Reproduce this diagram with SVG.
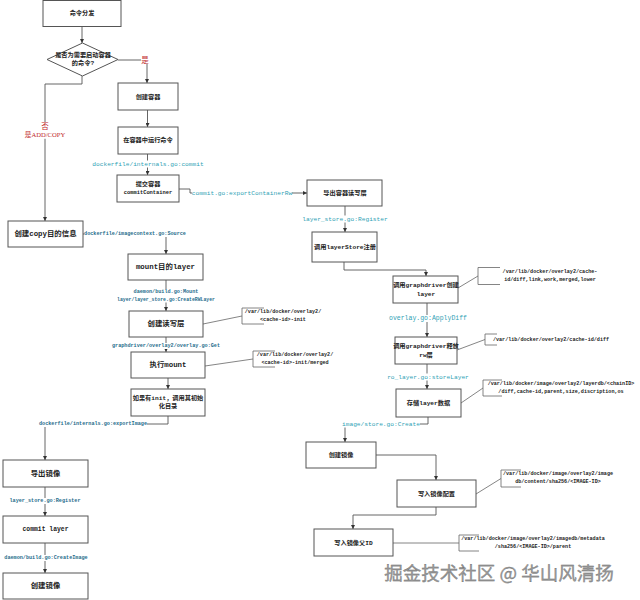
<svg xmlns="http://www.w3.org/2000/svg" width="640" height="600" viewBox="0 0 640 600">
<defs>
<marker id="arr" viewBox="0 0 6 6" refX="6" refY="3" markerWidth="4" markerHeight="4" orient="auto" markerUnits="userSpaceOnUse">
<path d="M0,0 L6,3 L0,6 z" fill="#333"/>
</marker>
<style>
.box{fill:#fff;stroke:#555;stroke-width:1}
.arrow{fill:none;stroke:#555;stroke-width:0.9;marker-end:url(#arr)}
.note{fill:none;stroke:#666;stroke-width:0.8}
.bg{fill:#fff}
.t{font-family:"Liberation Mono","Noto Sans CJK SC",monospace;font-weight:bold;fill:#222;text-anchor:middle;dominant-baseline:central}
.s{font-size:6.2px}
.b{font-size:7.4px}
.lbl{font-family:"Liberation Mono",monospace;text-anchor:middle;dominant-baseline:central}
.lt{fill:#2f9fb5;font-size:6.2px}
.dk{fill:#1f6d8c;font-size:5.15px;font-weight:bold}
.nt{font-family:"Liberation Mono",monospace;font-size:5.1px;font-weight:bold;fill:#222;text-anchor:middle;dominant-baseline:central}
.red{font-family:"Liberation Serif","Noto Sans CJK SC",serif;font-size:6.6px;fill:#c0282a;text-anchor:middle;dominant-baseline:central}
</style>
</defs>
<rect width="640" height="600" fill="#fff"/>

<g id="connectors">
<path class="arrow" d="M82,26 V43"/>
<path class="arrow" d="M118,60 H147 V83"/>
<path class="arrow" d="M82,76 V84 H45 V221"/>
<path class="arrow" d="M147.5,110 V127"/>
<path class="arrow" d="M147.5,154 V175"/>
<path class="arrow" d="M179,189 H190 V193 H307"/>
<path class="arrow" d="M345,206 V232"/>
<path class="arrow" d="M344,262 V270 H426 V276"/>
<path class="arrow" d="M427,303 V337"/>
<path class="arrow" d="M427,364 V389"/>
<path class="arrow" d="M428,417 V424 H345 V442"/>
<path class="arrow" d="M376,455 H436 V480"/>
<path class="arrow" d="M436,507 V515 H353 V529"/>
<path class="arrow" d="M83,234 H166 V254"/>
<path class="arrow" d="M166,280 V311"/>
<path class="arrow" d="M166,337 V352"/>
<path class="arrow" d="M168,378 V389"/>
<path class="arrow" d="M168,416 V424 H45 V460"/>
<path class="arrow" d="M45,487 V516"/>
<path class="arrow" d="M45,543 V573"/>
<!-- note connectors -->
<path class="note" d="M458,288 L478,276"/>
<path class="note" d="M457,350 L485,339.5"/>
<path class="note" d="M461,403 L483,388"/>
<path class="note" d="M203,324 L242,316"/>
<path class="note" d="M205,366 L253,359"/>
<path class="note" d="M476,494 L501,478.5"/>
<path class="note" d="M393,543 L459,543"/>
<!-- label backgrounds -->
<rect class="bg" x="141" y="56" width="8" height="8"/>
<rect class="bg" x="41" y="122" width="8" height="16.5"/>
<rect class="bg" x="28" y="130.5" width="34" height="8"/>
<rect class="bg" x="92" y="160.5" width="112" height="7"/>
<rect class="bg" x="192" y="189.5" width="100" height="7"/>
<rect class="bg" x="302" y="215.5" width="86" height="7"/>
<rect class="bg" x="389" y="315" width="78" height="7"/>
<rect class="bg" x="387" y="373.5" width="82" height="7"/>
<rect class="bg" x="342" y="420.5" width="78" height="7"/>
<rect class="bg" x="84" y="231" width="102" height="6"/>
<rect class="bg" x="117" y="289" width="98" height="13.5"/>
<rect class="bg" x="112" y="343" width="108" height="6"/>
<rect class="bg" x="39" y="421" width="108" height="6"/>
<rect class="bg" x="9.5" y="498" width="71" height="6"/>
<rect class="bg" x="4.3" y="555" width="83.4" height="6"/>
<!-- connector labels -->
<text class="red" x="145" y="60" style="font-size:7.5px">是</text>
<text class="red" x="45" y="126" style="font-size:7.5px">否</text>
<text class="red" x="45" y="134.5">是ADD/COPY</text>
<text class="lbl lt" x="148" y="164">dockerfile/internals.go:commit</text>
<text class="lbl lt" x="242" y="193">commit.go:exportContainerRw</text>
<text class="lbl lt" x="345" y="219">layer_store.go:Register</text>
<text class="lbl lt" x="428" y="318.5" style="font-size:6.5px">overlay.go:ApplyDiff</text>
<text class="lbl lt" x="428" y="377">ro_layer.go:storeLayer</text>
<text class="lbl lt" x="381" y="424">image/store.go:Create</text>
<text class="lbl dk" x="135" y="234">dockerfile/imagecontext.go:Source</text>
<text class="lbl dk" x="166" y="292">daemon/build.go:Mount</text>
<text class="lbl dk" x="166" y="299.5" style="font-size:4.8px">layer/layer_store.go:CreateRWLayer</text>
<text class="lbl dk" x="166" y="346">graphdriver/overlay2/overlay.go:Get</text>
<text class="lbl dk" x="93" y="424">dockerfile/internals.go:exportImage</text>
<text class="lbl dk" x="45" y="501">layer_store.go:Register</text>
<text class="lbl dk" x="46" y="558">daemon/build.go:CreateImage</text>
</g>

<g id="n-dispatch"><rect class="box" x="43" y="0.5" width="78" height="26"/><text class="t s" x="82" y="13.5">命令分发</text></g>
<g id="n-decision"><path class="box" d="M82.5,43 L118,59.5 L82.5,76 L47,59.5 z"/><text class="t s" x="83" y="55">是否为需要启动容器</text><text class="t s" x="83" y="63.5">的命令?</text></g>
<g id="n-create-container"><rect class="box" x="118" y="83" width="60" height="27"/><text class="t s" x="148" y="97">创建容器</text></g>
<g id="n-run-cmd"><rect class="box" x="118" y="127" width="60" height="27"/><text class="t s" x="148" y="140.5">在容器中运行命令</text></g>
<g id="n-commit-container"><rect class="box" x="117" y="175" width="62" height="27"/><text class="t s" x="148" y="184">提交容器</text><text class="t" style="font-size:5.4px" x="148" y="193">commitContainer</text></g>
<g id="n-export-rw"><rect class="box" x="307" y="180" width="75" height="26"/><text class="t s" x="345" y="193">导出容器读写层</text></g>
<g id="n-layerstore-register"><rect class="box" x="312" y="232" width="65" height="30"/><text class="t s" x="345" y="247">调用layerStore注册</text></g>
<g id="n-graphdriver-create"><rect class="box" x="393" y="276" width="65" height="27"/><text class="t s" x="426" y="285">调用graphdriver创建</text><text class="t s" x="426" y="294">layer</text></g>
<g id="n-graphdriver-release"><rect class="box" x="395" y="337" width="62" height="27"/><text class="t s" x="426" y="346.5">调用graphdriver释放</text><text class="t s" x="426" y="355.5">rw层</text></g>
<g id="n-store-layer"><rect class="box" x="396" y="389" width="65" height="28"/><text class="t s" x="428.5" y="403.5">存储layer数据</text></g>
<g id="n-create-image-r"><rect class="box" x="306" y="442" width="70" height="26"/><text class="t s" x="341" y="455">创建镜像</text></g>
<g id="n-write-config"><rect class="box" x="397" y="480" width="79" height="27"/><text class="t s" x="436.5" y="494">写入镜像配置</text></g>
<g id="n-write-parent"><rect class="box" x="314" y="529" width="79" height="27"/><text class="t s" x="353.5" y="543">写入镜像父ID</text></g>
<g id="n-create-copy"><rect class="box" x="8" y="221" width="75" height="26"/><text class="t b" x="45.5" y="234">创建copy目的信息</text></g>
<g id="n-mount-layer"><rect class="box" x="128" y="254" width="75" height="26"/><text class="t b" x="165.5" y="267">mount目的layer</text></g>
<g id="n-create-rw"><rect class="box" x="129" y="311" width="74" height="26"/><text class="t b" x="166" y="324">创建读写层</text></g>
<g id="n-exec-mount"><rect class="box" x="131" y="352" width="74" height="26"/><text class="t b" x="168" y="365">执行mount</text></g>
<g id="n-init"><rect class="box" x="131" y="389" width="74" height="27"/><text class="t s" x="168" y="398">如果有init，调用其初始</text><text class="t s" x="168" y="406.5">化目录</text></g>
<g id="n-export-image"><rect class="box" x="3" y="460" width="85" height="27"/><text class="t b" x="45.5" y="473.5">导出镜像</text></g>
<g id="n-commit-layer"><rect class="box" x="3" y="516" width="85" height="27"/><text class="t" style="font-size:6.4px" x="45.5" y="529.5">commit layer</text></g>
<g id="n-create-image-l"><rect class="box" x="3" y="573" width="85" height="26"/><text class="t b" x="45.5" y="586">创建镜像</text></g>

<g id="note-create-rw"><path class="note" d="M264,308 H242 V324 H264"/><text class="nt" x="283" y="312">/var/lib/docker/overlay2/</text><text class="nt" x="283" y="319.5">&lt;cache-id&gt;-init</text></g>
<g id="note-exec-mount"><path class="note" d="M275,351 H253 V367 H275"/><text class="nt" x="295" y="355">/var/lib/docker/overlay2/</text><text class="nt" x="295" y="362.5">&lt;cache-id&gt;-init/merged</text></g>
<g id="note-graphdriver-create"><path class="note" d="M500,267.5 H478 V284.5 H500"/><text class="nt" x="550" y="272">/var/lib/docker/overlay2/cache-</text><text class="nt" x="550" y="280">id/diff,link,work,merged,lower</text></g>
<g id="note-graphdriver-release"><path class="note" d="M497,334 H485 V345 H497"/><text class="nt" x="551" y="339.5">/var/lib/docker/overlay2/cache-id/diff</text></g>
<g id="note-store-layer"><path class="note" d="M502,380 H483 V396 H502"/><text class="nt" x="561" y="384">/var/lib/docker/image/overlay2/layerdb/&lt;chainID&gt;</text><text class="nt" x="561" y="392">/diff,cache-id,parent,size,discription,os</text></g>
<g id="note-write-config"><path class="note" d="M521,470 H501 V487 H521"/><text class="nt" x="558" y="474">/var/lib/docker/image/overlay2/image</text><text class="nt" x="558" y="482">db/content/sha256/&lt;IMAGE-ID&gt;</text></g>
<g id="note-write-parent"><path class="note" d="M479,535 H459 V551 H479"/><text class="nt" x="533" y="539">/var/lib/docker/image/overlay2/imagedb/metadata</text><text class="nt" x="533" y="547">/sha256/&lt;IMAGE-ID&gt;/parent</text></g>

<text x="499" y="580" font-family="'Noto Sans CJK SC','Noto Sans',sans-serif" font-size="18.5" fill="#9a9a9a" stroke="#6a6a6a" stroke-width="0.3" text-anchor="middle">掘金技术社区 @ 华山风清扬</text>
</svg>
